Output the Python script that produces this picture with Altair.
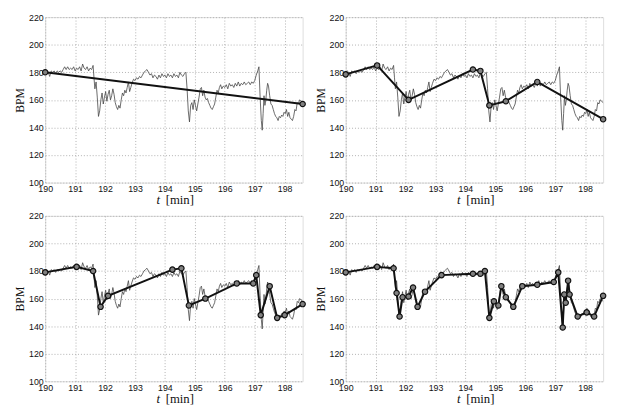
import altair as alt
import pandas as pd

# ---- data ----
thin_t = [190.00, 190.05, 190.10, 190.15, 190.20, 190.25, 190.30, 190.35, 190.40, 190.45,
          190.50, 190.55, 190.60, 190.65, 190.70, 190.75, 190.80, 190.85, 190.90, 190.95,
          191.00, 191.05, 191.10, 191.15, 191.20, 191.25, 191.30, 191.35, 191.40, 191.45,
          191.50, 191.55, 191.60, 191.63, 191.66, 191.70, 191.74, 191.78, 191.82, 191.86,
          191.90, 191.94, 191.98, 192.02, 192.06, 192.10, 192.14, 192.18, 192.22, 192.26,
          192.30, 192.34, 192.38, 192.42, 192.46, 192.50, 192.54, 192.58, 192.62, 192.66,
          192.70, 192.74, 192.78, 192.82, 192.86, 192.90, 192.95, 193.00, 193.05, 193.10,
          193.15, 193.20, 193.25, 193.30, 193.35, 193.40, 193.45, 193.50, 193.55, 193.60,
          193.65, 193.70, 193.75, 193.80, 193.85, 193.90, 193.95, 194.00, 194.05, 194.10,
          194.15, 194.20, 194.25, 194.30, 194.35, 194.40, 194.45, 194.50, 194.55, 194.60,
          194.65, 194.70, 194.74, 194.78, 194.82, 194.86, 194.90, 194.94, 194.98, 195.02,
          195.06, 195.10, 195.14, 195.18, 195.22, 195.26, 195.30, 195.34, 195.38, 195.42,
          195.46, 195.50, 195.54, 195.58, 195.62, 195.66, 195.70, 195.74, 195.78, 195.82,
          195.86, 195.90, 195.95, 196.00, 196.05, 196.10, 196.15, 196.20, 196.25, 196.30,
          196.35, 196.40, 196.45, 196.50, 196.55, 196.60, 196.65, 196.70, 196.75, 196.80,
          196.85, 196.90, 196.95, 197.00, 197.05, 197.10, 197.14, 197.18, 197.22, 197.25,
          197.28, 197.31, 197.34, 197.37, 197.40, 197.43, 197.46, 197.50, 197.54, 197.58,
          197.62, 197.66, 197.70, 197.74, 197.78, 197.82, 197.86, 197.90, 197.94, 197.98,
          198.02, 198.06, 198.10, 198.14, 198.18, 198.22, 198.26, 198.30, 198.34, 198.38,
          198.42, 198.46, 198.50, 198.55, 198.60]
thin_bpm = [180, 181, 180, 177, 181, 180, 181, 179, 181, 180,
            181, 180, 182, 184, 182, 184, 182, 183, 182, 184,
            181, 183, 182, 184, 181, 186, 183, 182, 184, 181,
            183, 182, 185, 176, 168, 173, 162, 148, 152, 160,
            165, 157, 162, 166, 159, 164, 167, 160, 163, 168,
            164, 158, 155, 153, 156, 154, 160, 165, 163, 167,
            165, 169, 173, 166, 169, 172, 175, 174, 176, 175,
            177, 176, 178, 180, 181, 182, 180, 178, 179, 176,
            178, 177, 175, 178, 176, 179, 177, 178, 176, 179,
            177, 178, 176, 179, 177, 178, 176, 180, 178, 177,
            179, 180, 168, 152, 144, 156, 158, 153, 160, 156,
            152, 157, 162, 168, 169, 163, 167, 162, 160, 161,
            158, 156, 154, 153, 155, 157, 162, 167, 165, 169,
            171, 168, 170, 169, 171, 168, 172, 170, 171, 169,
            172, 170, 173, 170, 172, 171, 173, 171, 172, 173,
            171, 173, 172, 174, 178, 181, 184, 162, 145, 138,
            150, 163, 156, 160, 167, 172, 170, 163, 157, 156,
            153, 150, 148, 147, 145, 148, 147, 149, 148, 151,
            150, 153, 148, 151, 147, 146, 145, 148, 153, 152,
            158, 157, 160, 159, 158]

p1_t = [190.0, 198.6]
p1_bpm = [180, 157]

p2_t = [190.0, 191.05, 192.1, 194.25, 194.5, 194.8, 195.35, 196.4, 198.6]
p2_bpm = [178.5, 185, 160, 182, 181, 156, 159, 173, 146]

p3_t = [190.0, 191.05, 191.6, 191.85, 192.1, 194.25, 194.55, 194.8, 195.35, 196.4,
        196.95, 197.05, 197.2, 197.5, 197.75, 198.0, 198.6]
p3_bpm = [179, 183, 180, 154, 162, 181, 182, 155, 160, 171,
          171, 177, 148, 169, 146, 148, 156]

p4_t = [190.0, 191.05, 191.6, 191.7, 191.8, 191.9, 192.1, 192.25, 192.4, 192.65,
        193.2, 194.25, 194.5, 194.65, 194.8, 194.95, 195.1, 195.2, 195.35, 195.6,
        195.9, 196.4, 196.95, 197.1, 197.25, 197.3, 197.35, 197.43, 197.48, 197.75,
        198.05, 198.3, 198.6]
p4_bpm = [179, 183, 182, 164, 147, 161, 161.5, 168, 154, 165,
          177, 178, 178, 180, 146, 158, 155, 169, 161, 154,
          169, 170, 172, 179, 139, 163, 157, 173, 163, 147,
          150, 147, 162]

x_ticks = [190, 191, 192, 193, 194, 195, 196, 197, 198]
y_ticks = [100, 120, 140, 160, 180, 200, 220]

W, H = 263, 169
LABEL_FONT = "Liberation Sans"
SERIF = "Liberation Serif"

thin_df = pd.DataFrame({"t": thin_t, "bpm": thin_bpm})

xs = alt.Scale(domain=[190, 198.6], nice=False, zero=False)
ys = alt.Scale(domain=[100, 220], nice=False, zero=False)

xaxis = alt.Axis(values=x_ticks, title=None, grid=True, gridDash=[1, 2], gridColor="#b0b0b0",
                 ticks=False, domain=False, labelFont=LABEL_FONT, labelFontSize=9,
                 labelColor="#111", labelPadding=2, format="d", labelFlush=False,
                 labelOverlap=False)
yaxis = alt.Axis(values=y_ticks, title="BPM", grid=True, gridDash=[1, 2], gridColor="#b0b0b0",
                 ticks=False, domain=False, labelFont=LABEL_FONT, labelFontSize=9,
                 labelColor="#111", labelPadding=2, titleFont=SERIF, titleFontSize=12,
                 titleFontWeight="normal", titleColor="#111", titlePadding=2, format="d",
                 labelOverlap=False)


def panel(pt, pb):
    df = pd.DataFrame({"t": pt, "bpm": pb})
    enc = dict(x=alt.X("t:Q", scale=xs, axis=xaxis), y=alt.Y("bpm:Q", scale=ys, axis=yaxis))
    thin = alt.Chart(thin_df).mark_line(color="#444", strokeWidth=0.8).encode(**enc)
    thick = alt.Chart(df).mark_line(color="#111", strokeWidth=2).encode(**enc)
    pts = alt.Chart(df).mark_circle(size=30, fill="#808080", stroke="#111",
                                    strokeWidth=1.2, opacity=1).encode(**enc)
    one = pd.DataFrame({"a": [0]})
    tt = alt.Chart(one).mark_text(text="t", font=SERIF, fontStyle="italic", fontSize=13,
                                  align="center", baseline="top", color="#111").encode(
        x=alt.value(W / 2 - 16), y=alt.value(H + 12)
    )
    tm = alt.Chart(one).mark_text(text="[min]", font=SERIF, fontSize=13,
                                  align="center", baseline="top", color="#111").encode(
        x=alt.value(W / 2 + 6), y=alt.value(H + 12)
    )
    return alt.layer(thin, thick, pts, tt, tm).properties(width=W, height=H)


row1 = alt.hconcat(panel(p1_t, p1_bpm), panel(p2_t, p2_bpm), spacing=5)
row2 = alt.hconcat(panel(p3_t, p3_bpm), panel(p4_t, p4_bpm), spacing=5)

chart = alt.vconcat(row1, row2, spacing=3).properties(
    padding={"left": 5, "top": 0, "right": 0, "bottom": 0}
).configure_view(stroke="#333", strokeWidth=1).configure(background="white")

chart.save("out.html", embed_options={"renderer": "svg", "actions": False})
